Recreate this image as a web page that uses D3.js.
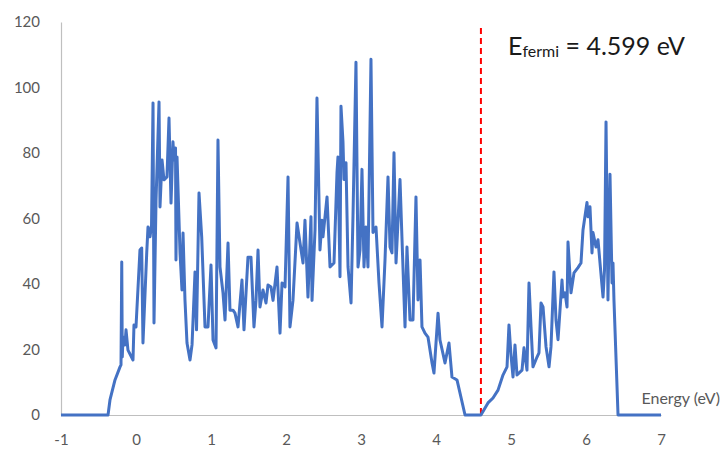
<!DOCTYPE html>
<html>
<head>
<meta charset="utf-8">
<script src="https://cdn.jsdelivr.net/npm/d3@7/dist/d3.min.js"></script>
<style>
  html, body { margin: 0; padding: 0; background: #fff; }
  svg { display: block; }
  text { font-family: Lato, "Open Sans", "Noto Sans", sans-serif; }
</style>
</head>
<body>
<svg id="chart" width="723" height="456"></svg>
<script>
// Density of states vs energy (eV)
const energy = [
  -1.0, -0.373, -0.347, -0.28, -0.213, -0.2, -0.19, -0.183, -0.173, -0.147,
  -0.133, -0.107, -0.04, -0.027, 0.0, 0.053, 0.076, 0.093, 0.143, 0.16,
  0.187, 0.207, 0.227, 0.24, 0.267, 0.307, 0.32, 0.347, 0.373, 0.413,
  0.44, 0.467, 0.493, 0.507, 0.527, 0.533, 0.547, 0.587, 0.613, 0.627,
  0.653, 0.68, 0.72, 0.747, 0.787, 0.807, 0.84, 0.876, 0.92, 0.96,
  1.0, 1.027, 1.067, 1.093, 1.12, 1.16, 1.187, 1.227, 1.253, 1.293,
  1.32, 1.36, 1.413, 1.44, 1.493, 1.533, 1.573, 1.6, 1.627, 1.653,
  1.693, 1.733, 1.76, 1.8, 1.827, 1.88, 1.92, 1.947, 1.987, 2.027,
  2.053, 2.093, 2.147, 2.187, 2.227, 2.253, 2.293, 2.333, 2.347, 2.387,
  2.413, 2.453, 2.48, 2.493, 2.547, 2.587, 2.64, 2.68, 2.693, 2.72,
  2.733, 2.76, 2.773, 2.8, 2.827, 2.867, 2.893, 2.933, 2.96, 2.987,
  3.013, 3.04, 3.067, 3.093, 3.133, 3.16, 3.2, 3.24, 3.28, 3.32,
  3.36, 3.387, 3.413, 3.44, 3.467, 3.52, 3.547, 3.587, 3.613, 3.653,
  3.693, 3.733, 3.76, 3.787, 3.813, 3.853, 3.893, 3.947, 3.973, 4.027,
  4.053, 4.12, 4.173, 4.213, 4.28, 4.387, 4.599, 4.693, 4.76, 4.827,
  4.893, 4.947, 4.973, 5.0, 5.027, 5.053, 5.08, 5.147, 5.173, 5.213,
  5.24, 5.267, 5.293, 5.347, 5.373, 5.4, 5.427, 5.467, 5.507, 5.533,
  5.573, 5.6, 5.627, 5.68, 5.693, 5.72, 5.747, 5.76, 5.8, 5.84,
  5.893, 5.933, 5.96, 6.013, 6.027, 6.053, 6.08, 6.093, 6.133, 6.16,
  6.187, 6.227, 6.247, 6.267, 6.293, 6.32, 6.347, 6.36, 6.373, 6.427,
  7.0
];
const dos = [
  0, 0, 4.6, 10.7, 14.7, 15.3, 46.7, 17.7, 23.8, 21.4,
  26, 19.8, 16.8, 27.5, 26.9, 50.4, 51, 22, 49.5, 57.4,
  54.4, 58, 95.3, 28.1, 65.6, 95.6, 63.5, 77.9, 71.8, 72.7,
  90.7, 64.7, 83.4, 77.9, 81.5, 47.3, 78.8, 49.5, 38.2, 55.6,
  35.1, 22, 16.8, 21.4, 43.7, 26, 67.8, 54.4, 26.9, 26.9,
  45.8, 22.9, 20.5, 84, 45.2, 37.3, 29, 52.5, 32, 32,
  31.1, 26.9, 41.2, 26, 48.2, 48.2, 26.9, 35, 50.4, 33,
  38.2, 34.2, 39.7, 39.1, 35, 45.2, 25, 40.3, 39.1, 72.7,
  26.9, 35, 58.6, 52.5, 46.4, 59.5, 36, 60.5, 35, 56.5,
  96.8, 50.4, 59.5, 54.4, 66.6, 45.2, 46.4, 74, 78.8, 42.2,
  94.3, 83.3, 71.9, 77, 45.2, 34.2, 60.5, 107.7, 45.2, 50.4,
  75, 45.2, 57.4, 45.2, 108.6, 55.7, 57.4, 40.3, 26.9, 47.3,
  72.7, 51.3, 49.5, 80.1, 46.4, 71.9, 53.5, 26.9, 51.3, 29,
  29, 66.6, 35.1, 47.3, 26.9, 25, 23.8, 15.9, 12.8, 31.1,
  22.9, 15.9, 22, 11.6, 10.7, 0, 0, 3.7, 5.2, 7.6,
  12.2, 14.7, 27.5, 18.3, 11.6, 21.4, 12.2, 13.7, 20.5, 13.7,
  40.3, 26.9, 14.7, 17.7, 19, 34.2, 33, 20.8, 14.7, 20.8,
  43.7, 29, 23, 41.2, 36, 37.3, 33, 52.8, 37.3, 43.4,
  45, 46.4, 56.5, 64.9, 60.5, 63.6, 49.5, 55.7, 51.3, 53.5,
  46.4, 36, 44.3, 89.5, 35.1, 73.5, 40.3, 46.4, 35, 0,
  0
];
const xTicks = [-1, 0, 1, 2, 3, 4, 5, 6, 7];
const yTicks = [0, 20, 40, 60, 80, 100, 120];
const fermiEnergy = 4.599;

const svg = d3.select("#chart");
const margin = { left: 61, top: 22, right: 62, bottom: 41 };
const W = 723, H = 456;

const x = d3.scaleLinear().domain([-1, 7]).range([margin.left, W - margin.right]);
const y = d3.scaleLinear().domain([0, 120]).range([H - margin.bottom, margin.top]);

const axisColor = "#bfbfbf";
const labelColor = "#595959";

// Y axis: vertical rule and tick labels only
const yAxis = svg.append("g")
  .attr("transform", `translate(${margin.left},0)`)
  .call(d3.axisLeft(y).tickValues(yTicks).tickSize(0).tickPadding(21));
yAxis.select(".domain").attr("stroke", axisColor).attr("stroke-width", 1.2);
yAxis.selectAll("text")
  .attr("fill", labelColor).attr("font-size", 15)
  .style("font-family", "Lato, 'Open Sans', sans-serif");

// X axis along DOS = 0 (plain hyphen for negatives)
const xAxis = svg.append("g")
  .attr("transform", `translate(0,${y(0)})`)
  .call(d3.axisBottom(x).tickValues(xTicks).tickSize(0).tickPadding(19).tickFormat(d => String(d)));
xAxis.select(".domain").attr("stroke", axisColor).attr("stroke-width", 1.2);
xAxis.selectAll("text")
  .attr("fill", labelColor).attr("font-size", 15)
  .style("font-family", "Lato, 'Open Sans', sans-serif");

// Fermi level marker
svg.append("line")
  .attr("x1", x(fermiEnergy)).attr("x2", x(fermiEnergy))
  .attr("y1", 28).attr("y2", y(0))
  .attr("stroke", "#ff0000")
  .attr("stroke-width", 2)
  .attr("stroke-dasharray", "6,4");

// DOS curve
const pts = energy.map((e, i) => [e, dos[i]]);
svg.append("path")
  .datum(pts)
  .attr("fill", "none")
  .attr("stroke", "#4472c4")
  .attr("stroke-width", 3)
  .attr("stroke-linejoin", "round")
  .attr("d", d3.line().x(d => x(d[0])).y(d => y(d[1])));

// Axis title
svg.append("text")
  .attr("x", 720).attr("y", 404)
  .attr("text-anchor", "end")
  .attr("fill", labelColor)
  .attr("font-size", 16)
  .text("Energy (eV)");

// Fermi energy annotation
const note = svg.append("text")
  .attr("x", 508).attr("y", 55)
  .attr("fill", "#1a1a1a")
  .attr("font-size", 25);
note.append("tspan").text("E");
note.append("tspan").attr("font-size", 16).attr("dy", 2).text("fermi");
note.append("tspan").attr("dy", -2).text(" = " + fermiEnergy + " eV");
</script>
</body>
</html>
